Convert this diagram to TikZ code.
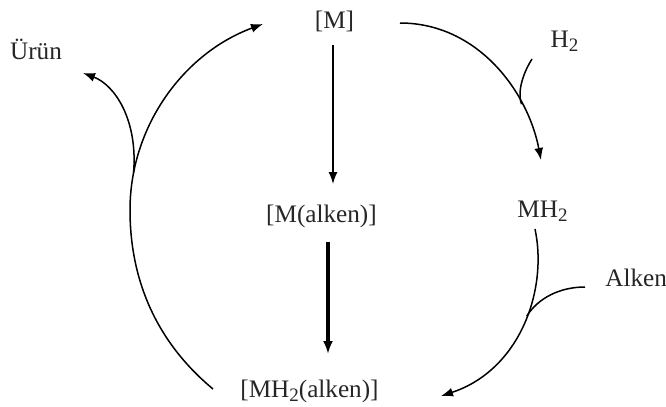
\documentclass[tikz,border=0pt]{standalone}
\usepackage{fontspec}
\setmainfont{Liberation Serif}
\usetikzlibrary{arrows.meta,calc}
\newcommand{\subtwo}{\raisebox{-0.4ex}{\fontsize{9.5}{10}\selectfont 2}}
\begin{document}
\begin{tikzpicture}[x=0.5pt,y=-0.5pt,
  lbl/.style={inner sep=0pt,anchor=base,font=\fontsize{12.6}{15}\selectfont,text=black!85},
  conn/.style={line width=0.75pt,-{Latex[length=6pt,width=4.5pt]}},
  thickconn/.style={line width=1.6pt,-{Latex[length=6.5pt,width=5pt]}},
  branch/.style={line width=0.75pt}]
\useasboundingbox (0,0) rectangle (666,407);
\node[lbl] (M) at (334.5,29) {[M]};
\node[lbl] (Mal) at (321.5,222) {[M(alken)]};
\node[lbl] (MHal) at (309.5,397) {[MH\subtwo(alken)]};
\node[lbl] (MH) at (542.5,217) {MH\subtwo};
\node[lbl,anchor=base west] (alk) at (605,286) {Alken};
\node[lbl] (H) at (564.5,47) {H\subtwo};
\node[lbl] (urun) at (36,60) {Ürün};
% vertical arrows
\draw[conn] ($(M.base)+(-1.5,16)$) -- ($(Mal.base)+(11.5,-38)$);
\draw[thickconn] ($(Mal.base)+(6.5,20)$) -- ($(MHal.base)+(18.5,-43)$);
% [M] -> MH2
\draw[conn] ($(M.base)+(65.5,-6)$) .. controls (478,23) and (528,92) .. coordinate[pos=0.72] (jH) ($(MH.base)+(-1.5,-57)$);
% H2 branch
\draw[branch] ($(H.base)+(-32.5,12)$) .. controls (520,78) and (518,96) .. (jH);
% MH2 -> [MH2(alken)]
\draw[conn] ($(MH.base)+(-7.5,12)$) .. controls (548,290) and (520,370) .. coordinate[pos=0.45] (jA) ($(MHal.base)+(131.5,-1)$);
% Alken branch
\draw[branch] ($(alk.base west)+(-20,1)$) .. controls (560,287) and (538,298) .. (jA);
% left big curve
\draw[conn] ($(MHal.base)+(-96.5,-8)$) .. controls (160,345) and (130,285) .. (130,210)
  .. controls (130,126) and (184,53) .. coordinate[pos=0.15] (jU) ($(M.base)+(-71.5,-5)$);
% Urun branch
\draw[conn] (jU) .. controls (138,120) and (115,85) .. ($(urun.base)+(47,13)$);
\end{tikzpicture}
\end{document}
